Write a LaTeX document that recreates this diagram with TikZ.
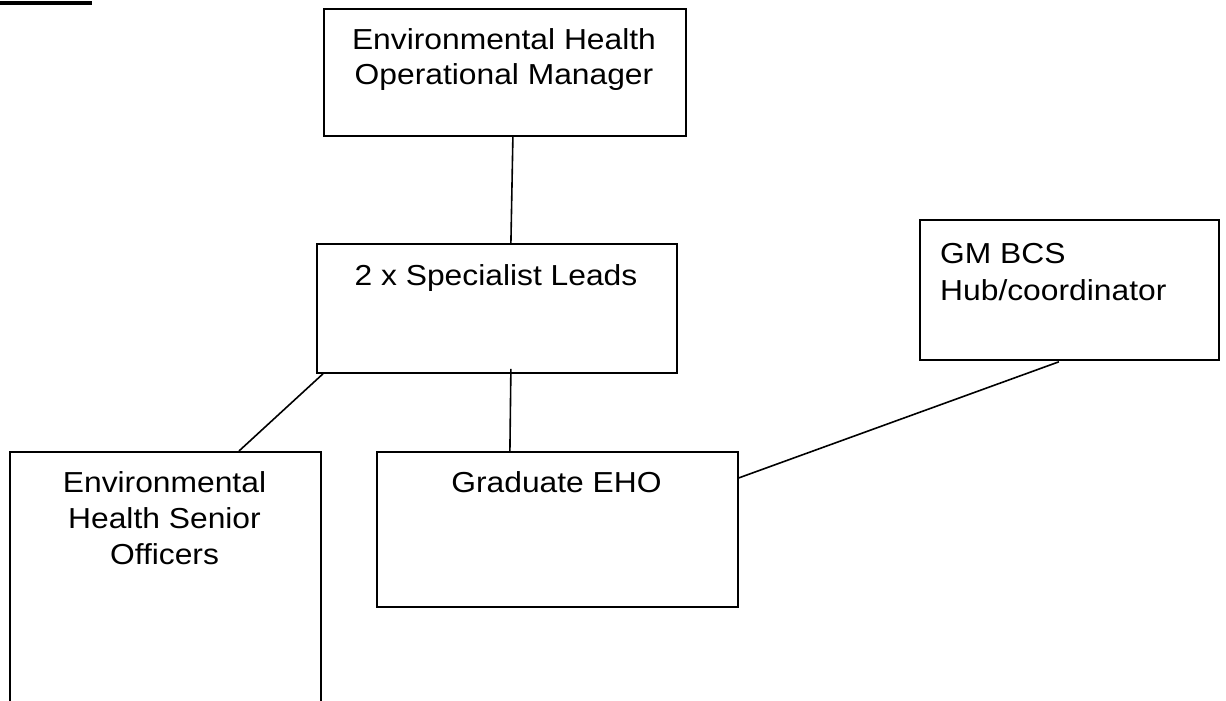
\documentclass[tikz,border=0pt]{standalone}
\usepackage{fontspec}
\setmainfont[FakeStretch=1.1]{Liberation Sans}
\usetikzlibrary{calc}
\begin{document}
\begin{tikzpicture}[x=1pt,y=-1pt,
  box/.style={draw=black,line width=1.8pt,rectangle,inner sep=0pt,anchor=north west},
  lbl/.style={inner sep=0pt,font=\fontsize{28.9pt}{36pt}\selectfont},
  conn/.style={draw=black,line width=1.6pt}]
\useasboundingbox (0,0) rectangle (1226,701);
\fill[black] (0,1) rectangle (92,5);
% boxes
\node[box,minimum width=362pt,minimum height=127pt] (mgr) at (323,8) {};
\node[box,minimum width=360pt,minimum height=129pt] (leads) at (316,243) {};
\node[box,minimum width=361pt,minimum height=155pt] (grad) at (376,451) {};
\node[box,minimum width=311pt,minimum height=290pt] (senior) at (9,451) {};
\node[box,minimum width=299pt,minimum height=140pt] (gm) at (919,219) {};
% texts (base anchor = baseline of the last line)
\node[lbl,align=center,anchor=base,font=\fontsize{28.9pt}{35pt}\selectfont] (mgrt) at (504,84.5) {Environmental Health\\Operational Manager};
\node[lbl,anchor=base] (leadst) at (496,285) {2 x Specialist Leads};
\node[lbl,anchor=base] (gradt) at (556.5,492.3) {Graduate EHO};
\node[lbl,align=center,anchor=base] (seniort) at (164.5,564.5) {Environmental\\Health Senior\\Officers};
\node[lbl,align=left,anchor=base west,font=\fontsize{28.9pt}{36.7pt}\selectfont] (gmt) at (940,300) {GM BCS\\Hub/coordinator};
% connectors
\draw[conn] ($(mgr.south)+(8,0)$) -- ($(leads.north)+(14,0)$);
\draw[conn] ($(leads.south west)+(7,0)$) -- ($(senior.north west)+(230,0)$);
\draw[conn] ($(leads.south)+(14,-5)$) -- ($(grad.north)+(-47.5,0)$);
\draw[conn] ($(gm.south)+(-10.5,1)$) -- ($(grad.east)+(0,-51.5)$);
\end{tikzpicture}
\end{document}
